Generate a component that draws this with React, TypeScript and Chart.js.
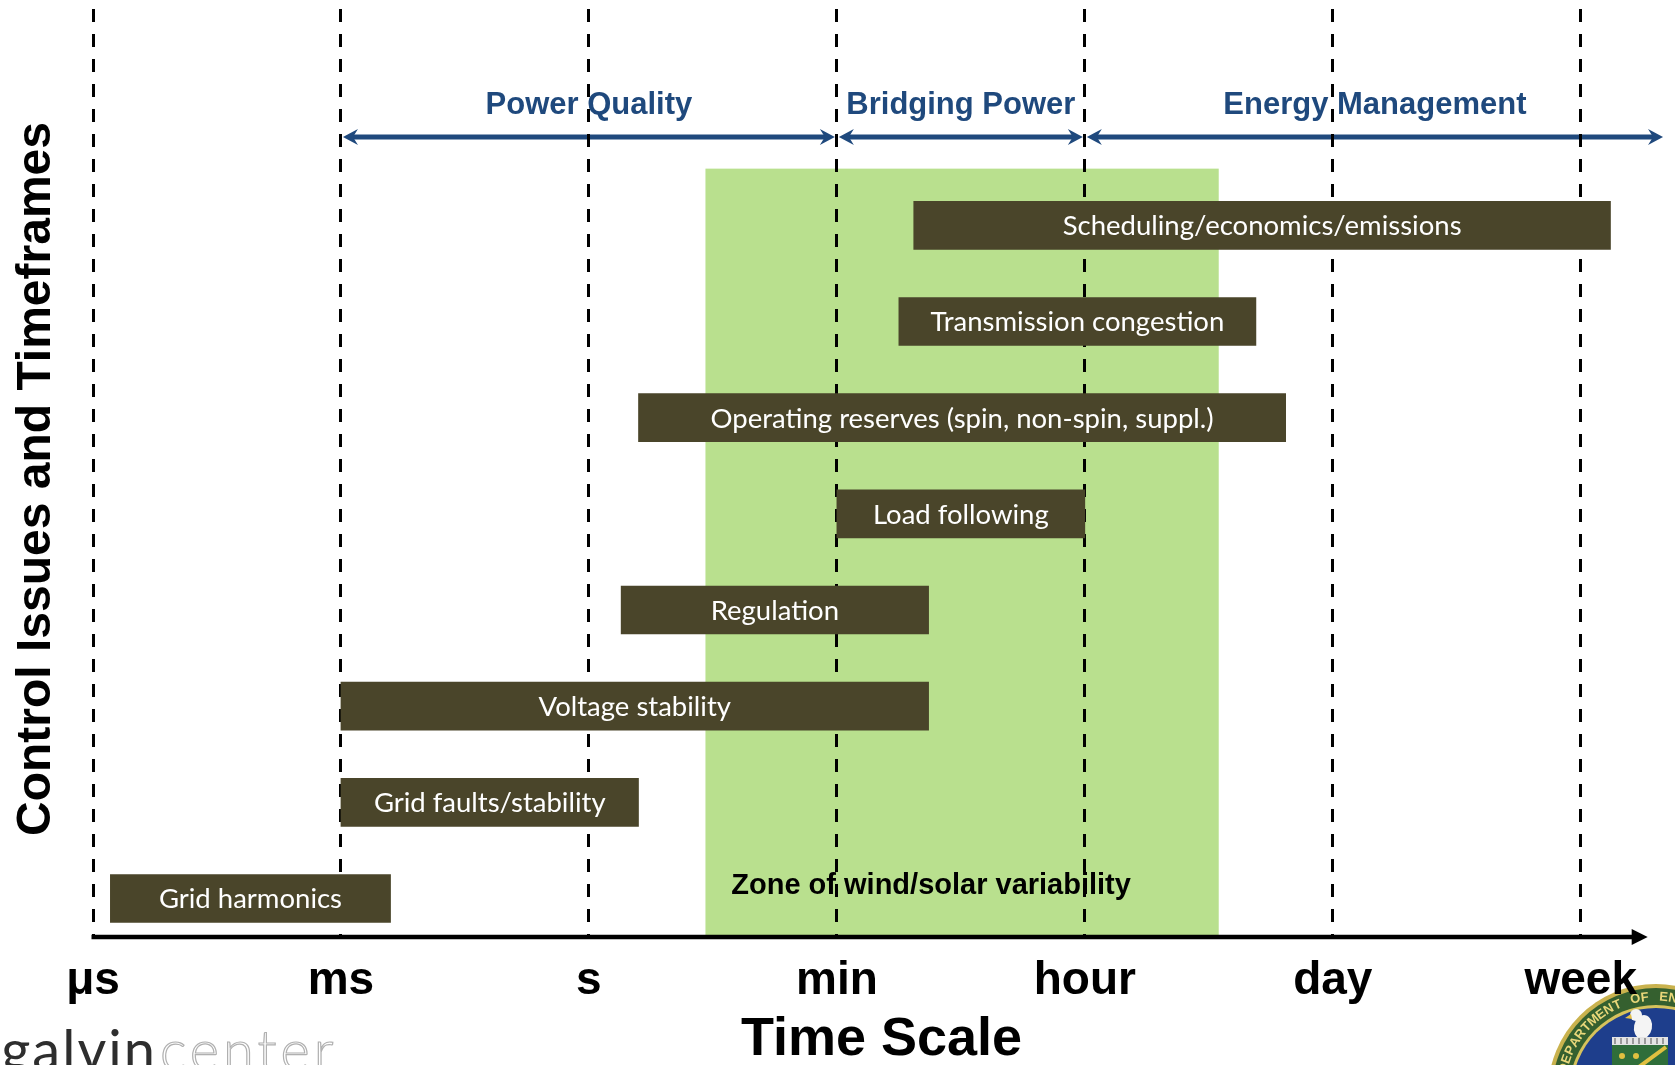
import { useEffect, useRef } from 'react';
import { Chart, registerables } from 'chart.js';

Chart.register(...registerables);

// Tick labels of the time axis, one per gridline
const timeTicks = ['μs', 'ms', 's', 'min', 'hour', 'day', 'week'];

// Control issues, top row first, and the span of the time axis each covers
const issueNames = [
  'Scheduling/economics/emissions',
  'Transmission congestion',
  'Operating reserves (spin, non-spin, suppl.)',
  'Load following',
  'Regulation',
  'Voltage stability',
  'Grid faults/stability',
  'Grid harmonics',
];
const issueRows = [8, 7, 6, 5, 4, 3, 2, 1];
const issueStart = [3.31, 3.25, 2.2, 3.0, 2.13, 1.0, 1.0, 0.07];
const issueEnd = [6.12, 4.69, 4.81, 4.0, 3.37, 3.37, 2.2, 1.2];

// Application bands shown as arrows above the chart
const bandNames = ['Power Quality', 'Bridging Power', 'Energy Management'];
const bandStart = [1, 3, 4];
const bandEnd = [3, 4, 6.34];

// Span where wind/solar variability matters
const zoneRange = [2.47, 4.54];
const zoneLabel = 'Zone of wind/solar variability';

const xTitle = 'Time Scale';
const yTitle = 'Control Issues and Timeframes';

const SANS = "'Liberation Sans', Arial, Helvetica, sans-serif";
const BAR_FONT = "Lato, 'Open Sans', sans-serif";
const BAR_COLOR = '#4A452A';
const ZONE_COLOR = '#B9E08E';
const BAND_COLOR = '#1F497D';

function arrowHead(ctx: CanvasRenderingContext2D, tipX: number, y: number, dir: number, len: number, half: number, notch: number) {
  ctx.beginPath();
  ctx.moveTo(tipX, y);
  ctx.lineTo(tipX - dir * len, y - half);
  ctx.lineTo(tipX - dir * (len - notch), y);
  ctx.lineTo(tipX - dir * len, y + half);
  ctx.closePath();
  ctx.fill();
}

function drawSeal(ctx: CanvasRenderingContext2D) {
  const cx = 1656;
  const cy = 1092;
  const disc = (r: number, color: string) => {
    ctx.beginPath();
    ctx.arc(cx, cy, r, 0, Math.PI * 2);
    ctx.fillStyle = color;
    ctx.fill();
  };
  ctx.save();
  disc(108, '#C9B24E');
  disc(104, '#35602F');
  // ring lettering
  const ring = 'DEPARTMENT OF ENERGY';
  ctx.fillStyle = '#E9D77A';
  ctx.font = `bold 13px ${SANS}`;
  ctx.textAlign = 'center';
  ctx.textBaseline = 'middle';
  const start = -Math.PI * 0.92;
  for (let i = 0; i < ring.length; i++) {
    const a = start + i * 0.1;
    ctx.save();
    ctx.translate(cx + 95 * Math.cos(a), cy + 95 * Math.sin(a));
    ctx.rotate(a + Math.PI / 2);
    ctx.fillText(ring[i], 0, 0);
    ctx.restore();
  }
  disc(87, '#D6C25C');
  disc(84, '#1E3E8C');
  // eagle
  ctx.fillStyle = '#F4F4F4';
  ctx.beginPath();
  ctx.ellipse(1643, 1027, 9, 12, 0.2, 0, Math.PI * 2);
  ctx.fill();
  ctx.beginPath();
  ctx.arc(1636, 1015, 6, 0, Math.PI * 2);
  ctx.fill();
  ctx.beginPath();
  ctx.moveTo(1631, 1014);
  ctx.lineTo(1625, 1018);
  ctx.lineTo(1632, 1019);
  ctx.closePath();
  ctx.fillStyle = '#E2C04A';
  ctx.fill();
  // shield
  ctx.fillStyle = '#E4E4E4';
  ctx.fillRect(1612, 1037, 56, 8);
  ctx.fillStyle = '#9A9A9A';
  for (let i = 0; i < 9; i++) ctx.fillRect(1614 + i * 6, 1038, 2, 6);
  ctx.fillStyle = '#2F6E3A';
  ctx.fillRect(1612, 1045, 56, 30);
  ctx.strokeStyle = '#E0C040';
  ctx.lineWidth = 4;
  ctx.beginPath();
  ctx.moveTo(1628, 1075);
  ctx.lineTo(1666, 1047);
  ctx.stroke();
  ctx.fillStyle = '#E0C040';
  [[1622, 1056], [1636, 1056], [1650, 1068]].forEach(([px, py]) => {
    ctx.beginPath();
    ctx.arc(px, py, 3, 0, Math.PI * 2);
    ctx.fill();
  });
  ctx.restore();
}

function drawLogo(ctx: CanvasRenderingContext2D) {
  ctx.save();
  ctx.textBaseline = 'alphabetic';
  ctx.font = `56px Lato, 'Open Sans', sans-serif`;
  ctx.fillStyle = '#2E2E2E';
  ctx.textAlign = 'right';
  (ctx as any).letterSpacing = '2px';
  ctx.fillText('galvin', 157, 1070);
  ctx.textAlign = 'left';
  (ctx as any).letterSpacing = '4px';
  ctx.strokeStyle = '#B0B0B0';
  ctx.lineWidth = 1.2;
  ctx.font = `300 56px Lato, 'Open Sans', sans-serif`;
  ctx.strokeText('center', 160, 1070);
  ctx.restore();
}

const decorations = {
  id: 'decorations',
  beforeDraw(chart: any) {
    const { ctx, chartArea, scales } = chart;
    const x = scales.x;
    const y = scales.y;
    ctx.save();

    // variability zone
    const zx1 = x.getPixelForValue(zoneRange[0]);
    const zx2 = x.getPixelForValue(zoneRange[1]);
    const zTop = y.getPixelForValue(8.59);
    ctx.fillStyle = ZONE_COLOR;
    ctx.fillRect(zx1, zTop, zx2 - zx1, chartArea.bottom - zTop);

    ctx.fillStyle = '#000';
    ctx.font = `bold 29px ${SANS}`;
    ctx.textAlign = 'center';
    ctx.textBaseline = 'alphabetic';
    ctx.fillText(zoneLabel, x.getPixelForValue(3.38), y.getPixelForValue(1.05));

    // band arrows and their labels
    const arrowY = y.getPixelForValue(8.92);
    const labelY = y.getPixelForValue(9.16);
    ctx.fillStyle = BAND_COLOR;
    ctx.strokeStyle = BAND_COLOR;
    ctx.lineWidth = 5;
    ctx.font = `bold 31px ${SANS}`;
    bandNames.forEach((name, i) => {
      const x1 = x.getPixelForValue(bandStart[i]) + 2;
      const x2 = x.getPixelForValue(bandEnd[i]) - 2;
      ctx.beginPath();
      ctx.moveTo(x1 + 8, arrowY);
      ctx.lineTo(x2 - 8, arrowY);
      ctx.stroke();
      arrowHead(ctx, x1, arrowY, -1, 15, 8, 5);
      arrowHead(ctx, x2, arrowY, 1, 15, 8, 5);
      ctx.fillText(name, (x1 + x2) / 2, labelY);
    });

    // axis titles
    ctx.fillStyle = '#000';
    ctx.font = `bold 54px ${SANS}`;
    ctx.fillText(xTitle, (chartArea.left + chartArea.right) / 2, 1055);
    ctx.save();
    ctx.translate(50, 479);
    ctx.rotate(-Math.PI / 2);
    ctx.font = `bold 48px ${SANS}`;
    ctx.fillText(yTitle, 0, 0);
    ctx.restore();

    drawLogo(ctx);
    drawSeal(ctx);
    ctx.restore();
  },
  afterDatasetsDraw(chart: any) {
    const { ctx, chartArea, scales } = chart;
    const x = scales.x;
    ctx.save();

    // issue names on the bars
    const meta = chart.getDatasetMeta(0);
    ctx.fillStyle = '#FFFFFF';
    ctx.font = `27.5px ${BAR_FONT}`;
    ctx.textAlign = 'center';
    ctx.textBaseline = 'middle';
    meta.data.forEach((bar: any, i: number) => {
      const p = bar.getProps(['x', 'y', 'base'], true);
      ctx.fillText(issueNames[i], (p.x + p.base) / 2, p.y + 1);
    });

    // time axis with arrow
    const ax1 = x.getPixelForValue(0) - 1.5;
    const ax2 = x.getPixelForValue(6.27);
    ctx.strokeStyle = '#000';
    ctx.fillStyle = '#000';
    ctx.lineWidth = 4.5;
    ctx.beginPath();
    ctx.moveTo(ax1, chartArea.bottom);
    ctx.lineTo(ax2 - 10, chartArea.bottom);
    ctx.stroke();
    arrowHead(ctx, ax2, chartArea.bottom, 1, 16, 8, 0);
    ctx.restore();
  },
};

export default function App() {
  const canvasRef = useRef<HTMLCanvasElement | null>(null);

  useEffect(() => {
    const canvas = canvasRef.current;
    if (!canvas) return;
    const chart = new Chart(canvas, {
      type: 'bar',
      data: {
        datasets: [
          {
            data: issueRows.map((row, i) => ({ x: [issueStart[i], issueEnd[i]], y: row })) as any,
            backgroundColor: BAR_COLOR,
            borderWidth: 0,
            barThickness: 48,
          },
        ],
      },
      options: {
        indexAxis: 'y',
        responsive: false,
        animation: false,
        devicePixelRatio: 1,
        layout: { padding: { left: 93, right: 5, top: 9, bottom: 0 } },
        plugins: {
          legend: { display: false },
          tooltip: { enabled: false },
        },
        scales: {
          x: {
            type: 'linear',
            min: 0,
            max: 6.36,
            afterBuildTicks: (scale: any) => {
              scale.ticks = timeTicks.map((_, i) => ({ value: i }));
            },
            afterFit: (scale: any) => {
              scale.height = 128;
            },
            ticks: {
              callback: (_v: any, i: number) => timeTicks[i],
              color: '#000',
              font: { family: SANS, size: 46, weight: 'bold' },
              padding: 17,
              maxRotation: 0,
              autoSkip: false,
            },
            grid: { color: '#000', lineWidth: 3, drawTicks: false },
            border: { display: false, dash: [13, 12] },
          },
          y: {
            type: 'linear',
            min: 0.6,
            max: 10.25,
            display: false,
            offset: false,
            grid: { offset: false },
          },
        },
      } as any,
      plugins: [decorations],
    });
    return () => chart.destroy();
  }, []);

  return (
    <div style={{ position: 'fixed', left: 0, top: 0, width: 1675, height: 1065, background: '#fff' }}>
      <canvas ref={canvasRef} width={1675} height={1065} style={{ display: 'block' }} />
    </div>
  );
}
